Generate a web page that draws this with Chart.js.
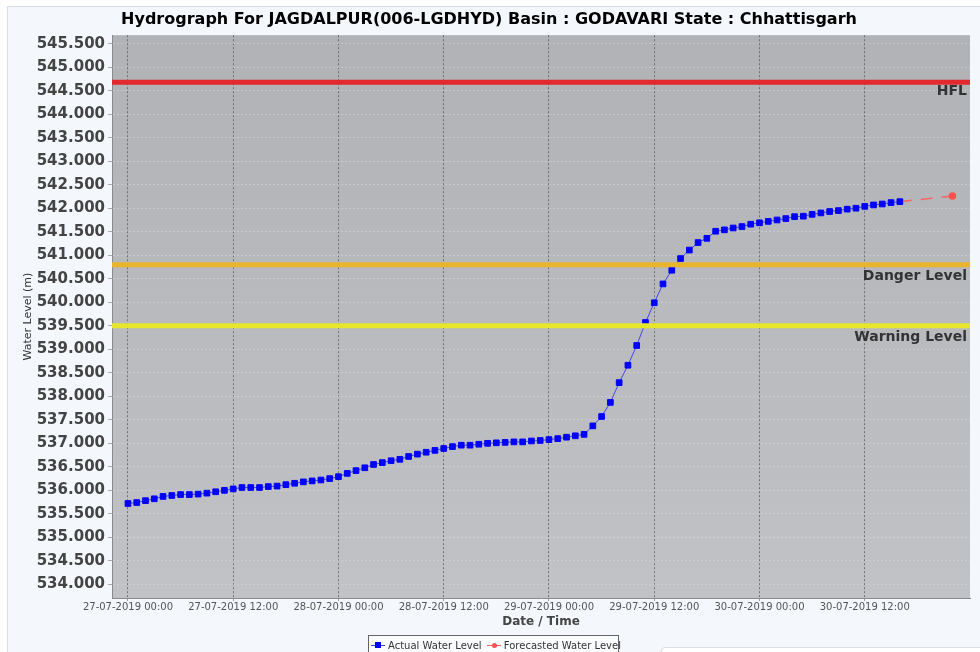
<!DOCTYPE html>
<html>
<head>
<meta charset="utf-8">
<script src="https://cdn.jsdelivr.net/npm/chart.js@4.4.0/dist/chart.umd.min.js"></script>
<style>
  body { margin: 0; background: #fff; width: 980px; height: 652px; overflow: hidden; position: relative; font-family: "DejaVu Sans", sans-serif; }
  #panel { position: absolute; left: 7px; top: 6px; width: 990px; height: 670px; background: #f4f7fb; border: 1px solid #d9dee5; }
  #c { position: absolute; left: 0; top: 0; }
  #legend { position: absolute; left: 368px; top: 635px; width: 251px; height: 24px; border: 1px solid #666; background: #fbfcfd; font-size: 10px; color: #333; line-height: 13px; padding-top: 3px; box-sizing: border-box; white-space: nowrap; }
  #legend .sym { display: inline-block; position: relative; width: 14px; height: 9px; vertical-align: -1px; margin-left: 2px; margin-right: 3px; }
  #legend .sym i { position: absolute; left: 0; right: 0; top: 4px; height: 1px; }
  #legend .sym b { position: absolute; left: 4px; top: 1px; width: 6px; height: 6px; }
  #box { position: absolute; left: 661px; top: 647px; width: 340px; height: 40px; background: #fff; border: 1px solid #dcdfe3; border-radius: 4px; }
</style>
</head>
<body>
<div id="panel"></div>
<canvas id="c" width="980" height="652"></canvas>
<div id="legend"><span class="sym"><i style="background:#3a3aff"></i><b style="background:#0000ff"></b></span>Actual Water Level <span class="sym"><i style="background:#ff6060"></i><b style="background:#ff5050;border-radius:50%;left:5px;top:2px;width:5px;height:5px"></b></span>Forecasted Water Level</div>
<div id="box"></div>
<script>
// hours counted from 27-07-2019 00:00, one reading per hour
const actualLevels = [
  535.72, 535.74, 535.78, 535.82, 535.87, 535.89, 535.91, 535.91, 535.92, 535.94,
  535.97, 536.00, 536.03, 536.06, 536.06, 536.06, 536.08, 536.09, 536.12, 536.15,
  536.18, 536.20, 536.22, 536.25, 536.29, 536.36, 536.42, 536.48, 536.55, 536.59,
  536.63, 536.66, 536.72, 536.77, 536.81, 536.85, 536.89, 536.93, 536.96, 536.96,
  536.98, 537.00, 537.01, 537.02, 537.03, 537.03, 537.05, 537.06, 537.08, 537.10,
  537.13, 537.16, 537.19, 537.37, 537.57, 537.87, 538.29, 538.66, 539.08, 539.57,
  539.99, 540.39, 540.68, 540.93, 541.11, 541.27, 541.36, 541.51, 541.54, 541.58,
  541.61, 541.66, 541.69, 541.72, 541.75, 541.78, 541.82, 541.83, 541.87, 541.90,
  541.93, 541.95, 541.98, 542.00, 542.04, 542.07, 542.09, 542.12, 542.14
];
const forecastHours = [88, 94];
const forecastLevels = [542.14, 542.26];

const levelNames = ["HFL", "Danger Level", "Warning Level"];
const levelValues = [544.68, 540.80, 539.50];
const levelColors = ["#e22a2e", "#e9b52c", "#e6e62c"];

const xTickHours = [0, 12, 24, 36, 48, 60, 72, 84];
const xTickLabels = [
  "27-07-2019 00:00", "27-07-2019 12:00", "28-07-2019 00:00", "28-07-2019 12:00",
  "29-07-2019 00:00", "29-07-2019 12:00", "30-07-2019 00:00", "30-07-2019 12:00"
];
const yTickValues = [534, 534.5, 535, 535.5, 536, 536.5, 537, 537.5, 538, 538.5, 539, 539.5,
  540, 540.5, 541, 541.5, 542, 542.5, 543, 543.5, 544, 544.5, 545, 545.5];

const xMin = -1.82, xMax = 96;
const yMin = 533.71, yMax = 545.68;

const plotBg = {
  id: "plotBg",
  beforeDraw(chart) {
    const { ctx, chartArea: a } = chart;
    const g = ctx.createLinearGradient(0, a.top, 0, a.bottom);
    g.addColorStop(0, "#b0b2b5");
    g.addColorStop(1, "#c0c2c5");
    ctx.save();
    ctx.fillStyle = g;
    ctx.fillRect(a.left, a.top, a.right - a.left, a.bottom - a.top);
    ctx.restore();
  }
};

const levelLabels = {
  id: "levelLabels",
  afterDatasetsDraw(chart) {
    const { ctx, chartArea: a, scales } = chart;
    const offsets = [2, 5, 5];
    ctx.save();
    ctx.font = "bold 14px 'DejaVu Sans'";
    ctx.fillStyle = "#333";
    ctx.textAlign = "right";
    ctx.textBaseline = "top";
    levelNames.forEach((name, i) => {
      const y = scales.y.getPixelForValue(levelValues[i]);
      ctx.fillText(name, a.right - 3, y + offsets[i]);
    });
    ctx.restore();
  }
};

const levelSets = levelNames.map((name, i) => ({
  label: name,
  data: [{ x: xMin, y: levelValues[i] }, { x: xMax, y: levelValues[i] }],
  borderColor: levelColors[i],
  borderWidth: 5,
  pointRadius: 0,
  order: -1
}));

new Chart(document.getElementById("c"), {
  type: "line",
  data: {
    datasets: [
      {
        label: "Actual Water Level",
        data: actualLevels.map((v, i) => ({ x: i, y: v })),
        borderColor: "rgba(30,30,255,0.75)",
        borderWidth: 1,
        pointStyle: "rect",
        pointRadius: 4,
        pointBorderWidth: 1,
        pointBackgroundColor: "#0000ff",
        pointBorderColor: "#0000ff",
        order: 1
      },
      {
        label: "Forecasted Water Level",
        data: forecastHours.map((h, i) => ({ x: h, y: forecastLevels[i] })),
        borderColor: "#ff6060",
        borderWidth: 1.5,
        borderDash: [12, 9],
        pointRadius: [0, 3],
        pointBackgroundColor: "#ff5050",
        pointBorderColor: "#ff5050",
        order: 2
      },
      ...levelSets
    ]
  },
  options: {
    responsive: false,
    animation: false,
    devicePixelRatio: 1,
    layout: { padding: { left: 8, top: 6, right: 10, bottom: 20 } },
    plugins: {
      legend: { display: false },
      tooltip: { enabled: false },
      title: {
        display: true,
        text: "Hydrograph For JAGDALPUR(006-LGDHYD) Basin : GODAVARI State : Chhattisgarh",
        font: { family: "DejaVu Sans", size: 16, weight: "bold" },
        color: "#000",
        padding: { top: 4, bottom: 6 }
      }
    },
    scales: {
      x: {
        type: "linear",
        min: xMin,
        max: xMax,
        afterBuildTicks(s) { s.ticks = xTickHours.map(v => ({ value: v })); },
        afterFit(s) { s.height = 34; },
        ticks: {
          autoSkip: false,
          maxRotation: 0,
          padding: 0,
          color: "#555",
          font: { family: "DejaVu Sans", size: 10 },
          callback: (v, i) => xTickLabels[i]
        },
        grid: { color: "rgba(80,80,80,0.7)", lineWidth: 1, tickLength: 3, tickColor: "#999" },
        border: { color: "#8a8a8a", width: 1, dash: [2, 2] },
        title: {
          display: true,
          text: "Date / Time",
          color: "#444",
          font: { family: "DejaVu Sans", size: 12, weight: "bold" },
          padding: { top: 0, bottom: 3 }
        }
      },
      y: {
        min: yMin,
        max: yMax,
        afterBuildTicks(s) { s.ticks = yTickValues.map(v => ({ value: v })); },
        afterFit(s) { s.width = 104; },
        ticks: {
          padding: 3,
          color: "#444",
          font: { family: "DejaVu Sans", size: 15, weight: "bold" },
          callback: v => v.toFixed(3)
        },
        grid: { color: "rgba(225,225,225,0.45)", lineWidth: 1, tickLength: 4, tickColor: "#aaa" },
        border: { color: "#8a8a8a", width: 1, dash: [2, 2] },
        title: {
          display: true,
          text: "Water Level (m)",
          color: "#333",
          font: { family: "DejaVu Sans", size: 11 },
          padding: { top: 14, bottom: 0 }
        }
      }
    }
  },
  plugins: [plotBg, levelLabels]
});
</script>
</body>
</html>
